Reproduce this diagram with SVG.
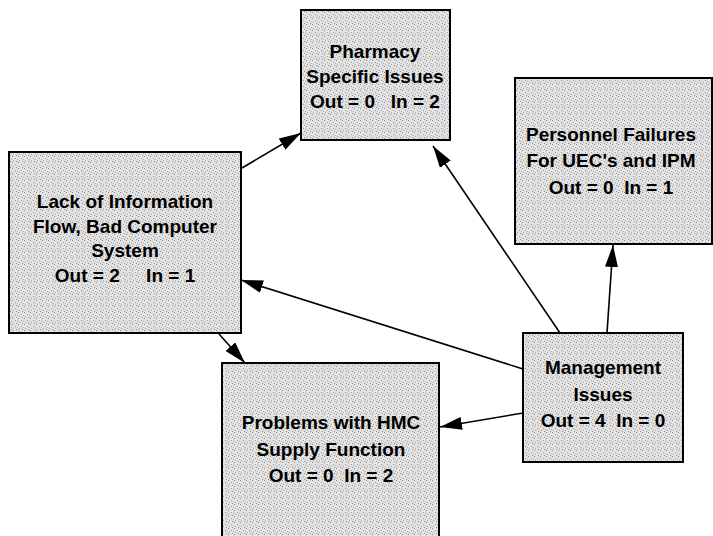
<svg xmlns="http://www.w3.org/2000/svg" width="713" height="536" viewBox="0 0 713 536">
  <defs>
    <!-- stippled grey fill used by every box -->
    <pattern id="stipple" width="6" height="6" patternUnits="userSpaceOnUse">
      <rect width="6" height="6" fill="#e2e2e2"/>
      <rect x="0" y="0" width="1" height="1" fill="#8a8a8a"/>
      <rect x="3" y="2" width="1" height="1" fill="#9a9a9a"/>
      <rect x="1" y="4" width="1" height="1" fill="#a5a5a5"/>
      <rect x="5" y="3" width="1" height="1" fill="#b0b0b0"/>
      <rect x="4" y="5" width="1" height="1" fill="#8f8f8f"/>
    </pattern>
    <marker id="arrow" viewBox="0 0 22 13" refX="22" refY="6.5" markerWidth="22" markerHeight="13" markerUnits="userSpaceOnUse" orient="auto">
      <path d="M0,0 L22,6.5 L0,13 Z" fill="#000"/>
    </marker>
    <style>
      .box { fill: url(#stipple); stroke: #000; stroke-width: 2; }
      .lbl { font-family: "Liberation Sans", Arial, Helvetica, sans-serif; font-weight: bold; font-size: 19px; fill: #000; text-anchor: middle; white-space: pre; }
      .edge { stroke: #000; stroke-width: 1.6; fill: none; marker-end: url(#arrow); }
    </style>
  </defs>

  <rect width="713" height="536" fill="#fff"/>

  <g id="connectors">
    <line class="edge" x1="242" y1="168" x2="301" y2="133"/>
    <line class="edge" x1="219" y1="334" x2="245" y2="363"/>
    <line class="edge" x1="523" y1="369" x2="241" y2="280"/>
    <line class="edge" x1="523" y1="413" x2="440" y2="427"/>
    <line class="edge" x1="560" y1="333" x2="433" y2="146"/>
    <line class="edge" x1="607" y1="333" x2="613" y2="245"/>
  </g>

  <g id="node-pharmacy">
    <rect class="box" x="301" y="10" width="149" height="130"/>
    <text class="lbl" x="375" y="58">Pharmacy</text>
    <text class="lbl" x="375" y="83">Specific Issues</text>
    <text class="lbl" x="375" y="108">Out = 0   In = 2</text>
  </g>

  <g id="node-personnel">
    <rect class="box" x="515" y="78" width="197" height="166"/>
    <text class="lbl" x="611" y="141">Personnel Failures</text>
    <text class="lbl" x="611" y="167">For UEC's and IPM</text>
    <text class="lbl" x="611" y="194">Out = 0  In = 1</text>
  </g>

  <g id="node-lack">
    <rect class="box" x="9" y="152" width="232" height="181"/>
    <text class="lbl" x="125" y="208">Lack of Information</text>
    <text class="lbl" x="125" y="233">Flow, Bad Computer</text>
    <text class="lbl" x="125" y="257">System</text>
    <text class="lbl" x="125" y="282">Out = 2     In = 1</text>
  </g>

  <g id="node-problems">
    <rect class="box" x="222" y="363" width="217" height="180"/>
    <text class="lbl" x="331" y="429">Problems with HMC</text>
    <text class="lbl" x="331" y="456">Supply Function</text>
    <text class="lbl" x="331" y="482">Out = 0  In = 2</text>
  </g>

  <g id="node-management">
    <rect class="box" x="523" y="333" width="160" height="129"/>
    <text class="lbl" x="603" y="374">Management</text>
    <text class="lbl" x="603" y="401">Issues</text>
    <text class="lbl" x="603" y="427">Out = 4  In = 0</text>
  </g>
</svg>
